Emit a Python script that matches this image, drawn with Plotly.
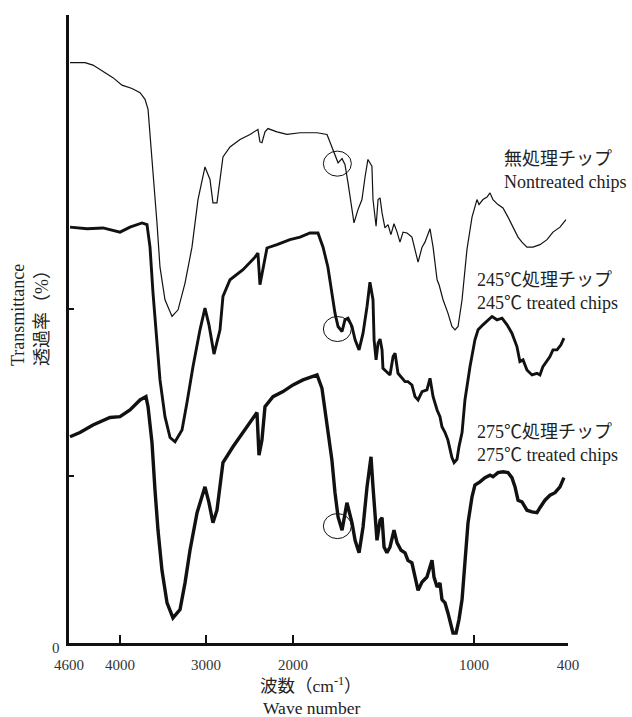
import numpy as np
import plotly.graph_objects as go

# ---- axis definition (FTIR style, non-uniform wavenumber scale) ----
tick_wavenumbers = [4600, 4000, 3000, 2000, 1000, 400]
tick_labels = ["4600", "4000", "3000", "2000", "1000", "400"]
tick_axis_pos = [0, 51, 137, 224, 405, 499]

# ---- series: (wavenumber cm-1, transmittance %) ----
untreated_wn = [4588, 4412, 4318, 4200, 4083, 3977, 3860, 3767, 3709, 3674, 3651, 3616, 3570, 3535, 3477,
                3395, 3325, 3244, 3163, 3093, 3012, 2954, 2920, 2874, 2839, 2805, 2724, 2609, 2494, 2403,
                2380, 2357, 2322, 2288, 2184, 2069, 1961, 1867, 1812, 1796, 1779, 1762, 1751, 1729, 1713,
                1696, 1674, 1663, 1641, 1619, 1602, 1586, 1564, 1558, 1541, 1530, 1519, 1508, 1492, 1475,
                1459, 1442, 1425, 1409, 1392, 1370, 1343, 1326, 1309, 1287, 1271, 1243, 1226, 1204, 1193,
                1171, 1144, 1122, 1105, 1088, 1066, 1039, 1011, 981, 968, 943, 917, 898, 879, 847, 815,
                783, 751, 719, 694, 662, 624, 579, 534, 496, 451, 413]
untreated_t = [69.5, 69.5, 69.2, 68.4, 67.7, 66.8, 66.4, 65.9, 65.1, 63.9, 61.1, 56.3, 50.3, 45.0, 41.1,
               39.1, 39.9, 43.1, 47.4, 53.1, 57.0, 55.5, 52.7, 52.7, 55.5, 58.2, 59.4, 60.3, 60.9, 61.5,
               60.0, 59.9, 61.2, 61.6, 61.2, 60.9, 61.1, 61.1, 60.9, 60.0, 59.1, 57.9, 57.5, 58.0, 57.3,
               55.1, 52.2, 50.3, 51.9, 53.1, 55.8, 57.9, 57.1, 53.1, 49.9, 53.1, 53.3, 51.5, 49.7, 50.1,
               48.9, 50.2, 49.2, 48.0, 49.2, 49.1, 48.6, 47.1, 45.6, 47.4, 48.0, 49.6, 47.4, 43.5, 42.9,
               41.1, 39.5, 37.9, 37.5, 37.9, 41.1, 47.1, 51.0, 53.1, 52.5, 53.1, 53.4, 53.9, 53.1, 52.5, 52.1,
               51.0, 49.8, 48.6, 48.0, 47.4, 47.4, 47.7, 48.3, 49.2, 49.8, 50.7]

t245_wn = [4588, 4388, 4200, 4000, 3884, 3744, 3686, 3651, 3616, 3570, 3535, 3477, 3418, 3360, 3279,
           3221, 3151, 3070, 3012, 2966, 2908, 2839, 2805, 2724, 2575, 2437, 2403, 2380, 2345, 2299,
           2184, 2035, 1961, 1906, 1862, 1834, 1807, 1785, 1768, 1751, 1729, 1713, 1696, 1674, 1657,
           1635, 1613, 1591, 1575, 1558, 1552, 1541, 1530, 1519, 1508, 1503, 1481, 1464, 1447, 1436,
           1420, 1398, 1381, 1365, 1343, 1326, 1309, 1287, 1260, 1243, 1226, 1204, 1188, 1177, 1160,
           1144, 1122, 1110, 1094, 1083, 1066, 1050, 1022, 994, 974, 943, 911, 885, 853, 821, 789,
           758, 726, 707, 687, 662, 630, 598, 579, 560, 515, 496, 470, 445, 426]
t245_t = [49.8, 49.6, 49.7, 49.2, 49.8, 50.3, 50.1, 47.4, 41.9, 36.3, 31.5, 27.1, 24.6, 24.1, 25.5,
          28.8, 33.1, 37.5, 40.1, 38.1, 34.6, 37.5, 41.5, 43.5, 44.7, 46.2, 46.7, 42.9, 45.0, 47.3,
          47.7, 48.3, 48.6, 49.1, 49.1, 47.4, 45.0, 41.9, 39.5, 37.9, 37.3, 38.7, 38.9, 37.9, 36.3,
          35.1, 37.1, 40.3, 43.2, 41.1, 36.3, 33.9, 35.9, 36.4, 35.1, 32.9, 32.5, 32.1, 34.3, 34.7,
          32.3, 31.7, 31.3, 31.3, 30.9, 29.5, 29.1, 30.1, 30.3, 31.7, 29.5, 27.9, 27.1, 25.9, 25.2,
          24.3, 22.2, 21.6, 22.0, 23.5, 25.2, 29.1, 33.1, 36.3, 37.5, 38.1, 38.7, 39.1, 38.7, 38.9, 38.1,
          37.1, 35.5, 33.7, 33.9, 32.7, 32.1, 32.3, 32.1, 33.1, 34.3, 35.1, 35.1, 35.7, 36.5]

t275_wn = [4588, 4471, 4318, 4118, 4000, 3884, 3767, 3698, 3674, 3628, 3593, 3558, 3512, 3453, 3384,
           3302, 3244, 3186, 3104, 3012, 2966, 2920, 2874, 2839, 2805, 2690, 2552, 2414, 2391, 2357,
           2322, 2230, 2115, 2000, 1945, 1867, 1840, 1812, 1785, 1768, 1751, 1729, 1702, 1674, 1657,
           1635, 1613, 1591, 1569, 1558, 1541, 1536, 1519, 1508, 1497, 1481, 1464, 1442, 1425, 1403,
           1381, 1365, 1343, 1326, 1309, 1287, 1260, 1232, 1221, 1204, 1188, 1177, 1160, 1144, 1127,
           1116, 1099, 1083, 1066, 1050, 1033, 1011, 994, 962, 930, 898, 879, 847, 815, 783, 758,
           738, 719, 694, 662, 630, 598, 579, 547, 515, 483, 451, 426]
t275_t = [24.7, 25.2, 26.1, 27.0, 27.1, 27.9, 29.1, 29.5, 28.3, 24.0, 18.3, 13.5, 8.7, 4.8, 3.0,
          4.0, 7.2, 11.1, 15.6, 18.7, 16.8, 14.4, 15.9, 19.2, 21.6, 23.5, 25.5, 27.6, 22.5, 24.3,
          28.3, 29.5, 30.1, 30.9, 31.5, 32.1, 30.5, 26.4, 21.9, 18.0, 15.1, 13.5, 16.8, 14.4, 12.3,
          10.8, 13.9, 18.7, 22.3, 18.7, 13.9, 12.3, 14.7, 15.0, 11.5, 10.8, 11.5, 13.5, 12.0, 11.1,
          10.8, 9.9, 9.6, 7.9, 6.3, 7.3, 7.9, 9.9, 7.9, 6.7, 7.2, 5.2, 4.8, 3.6, 1.9,
          1.2, 1.2, 2.8, 5.2, 9.9, 14.4, 17.5, 18.9, 19.3, 19.8, 20.1, 19.9, 20.4, 20.5, 20.4, 19.8,
          18.7, 17.1, 16.9, 15.9, 15.7, 15.6, 16.2, 17.1, 17.7, 18.0, 18.7, 19.8]

series_names = ["無処理チップ", "245℃処理チップ", "275℃処理チップ"]
series_labels = ["無処理チップ<br>Nontreated chips",
                 "245℃処理チップ<br>245℃ treated chips",
                 "275℃処理チップ<br>275℃ treated chips"]

# carbonyl band marked with circles
circle_wn = 1755
circle_t = [57.4, 37.6, 14.0]

Y_MAX = 75.2
FONT = "Liberation Serif, Noto Sans CJK JP, serif"


def to_pos(wn):
    wn = np.asarray(wn, dtype=float)
    return np.interp(-wn, [-w for w in tick_wavenumbers], tick_axis_pos)


fig = go.Figure()
widths = [1.2, 2.9, 3.4]
for name, wn, t, w in zip(series_names,
                          [untreated_wn, t245_wn, t275_wn],
                          [untreated_t, t245_t, t275_t], widths):
    fig.add_trace(go.Scatter(x=to_pos(wn), y=t, mode="lines", name=name,
                             line=dict(color="#111111", width=w), showlegend=False,
                             hoverinfo="skip"))

# circles around carbonyl peak
cx = float(to_pos([circle_wn])[0])
for ct in circle_t:
    fig.add_shape(type="circle", xref="x", yref="y",
                  x0=cx - 14, x1=cx + 14, y0=ct - 1.5, y1=ct + 1.5,
                  line=dict(color="#111111", width=1))

# series labels
label_pos = [(0.868, 0.753), (0.814, 0.560), (0.814, 0.318)]
for txt, (xp, yp) in zip(series_labels, label_pos):
    fig.add_annotation(text=txt, xref="paper", yref="paper", x=xp, y=yp,
                       xanchor="left", yanchor="middle", align="left", showarrow=False,
                       font=dict(family=FONT, size=18, color="#222222"))

# axis titles
fig.add_annotation(text="Transmittance<br>透過率（%）", xref="paper", yref="paper",
                   x=-0.078, y=0.524, textangle=-90, align="left", showarrow=False,
                   xanchor="center", yanchor="middle",
                   font=dict(family=FONT, size=18, color="#222222"))
x_title_split = (643 - 697) / 628
fig.add_annotation(text="波数（cm<sup>-1</sup>）", xref="paper", yref="paper",
                   x=0.485, y=x_title_split, align="center", showarrow=False,
                   xanchor="center", yanchor="bottom", borderpad=0,
                   font=dict(family=FONT, size=17.5, color="#222222"))
fig.add_annotation(text="Wave number", xref="paper", yref="paper",
                   x=0.485, y=x_title_split, align="center", showarrow=False,
                   xanchor="center", yanchor="top", borderpad=0,
                   font=dict(family=FONT, size=17.5, color="#222222"))
fig.add_annotation(text="0", xref="paper", yref="paper", x=-0.026, y=-0.008,
                   showarrow=False, xanchor="center", yanchor="middle",
                   font=dict(family=FONT, size=15, color="#333333"))

fig.update_layout(
    width=632, height=717,
    margin=dict(l=69, r=64, t=15, b=74),
    paper_bgcolor="white", plot_bgcolor="white",
    showlegend=False,
    xaxis=dict(range=[0, 499], showgrid=False, zeroline=False,
               showline=True, linecolor="#111111", linewidth=2.5,
               tickmode="array", tickvals=tick_axis_pos, ticktext=tick_labels,
               ticks="inside", ticklen=8, tickwidth=1.5, tickcolor="#111111",
               ticklabelstandoff=6,
               tickfont=dict(family=FONT, size=15, color="#333333")),
    yaxis=dict(range=[0, Y_MAX], showgrid=False, zeroline=False,
               showline=True, linecolor="#111111", linewidth=2.5,
               tickmode="array", tickvals=[20, 40], showticklabels=False,
               ticks="inside", ticklen=5, tickwidth=1.5, tickcolor="#111111"),
)

fig.write_html("out.html",
               config={"displayModeBar": False},
               post_script="document.body.style.margin='0';document.body.style.overflow='hidden';")
